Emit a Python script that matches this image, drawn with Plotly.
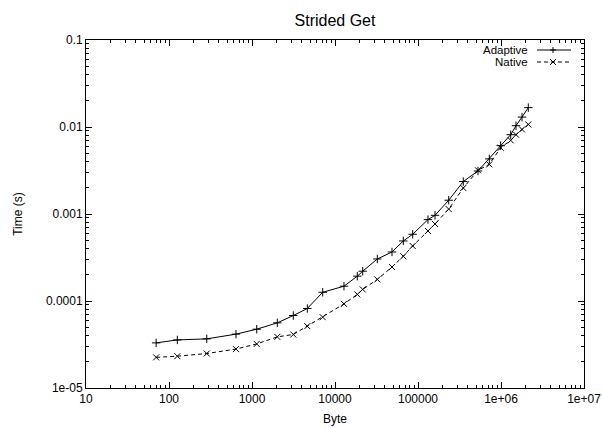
import plotly.graph_objects as go

title_text = "Strided Get"
x_title = "Byte"
y_title = "Time (s)"

bytes_sizes = [70, 126, 285, 641, 1140, 2018, 3146, 4638, 7110, 12830, 18570, 21570,
               32340, 48600, 66500, 86300, 131900, 160300, 234300, 351300, 528000,
               722600, 991000, 1309000, 1516000, 1791000, 2133000]

adaptive_time = [3.30e-5, 3.57e-5, 3.67e-5, 4.16e-5, 4.74e-5, 5.61e-5, 6.81e-5, 8.20e-5,
                 1.26e-4, 1.48e-4, 1.93e-4, 2.20e-4, 3.04e-4, 3.66e-4, 4.90e-4, 5.85e-4,
                 8.62e-4, 9.66e-4, 1.44e-3, 2.36e-3, 3.12e-3, 4.30e-3, 6.10e-3, 8.16e-3,
                 1.035e-2, 1.30e-2, 1.67e-2]

native_time = [2.25e-5, 2.32e-5, 2.49e-5, 2.80e-5, 3.21e-5, 3.87e-5, 4.12e-5, 5.14e-5,
               6.52e-5, 9.27e-5, 1.19e-4, 1.36e-4, 1.77e-4, 2.46e-4, 3.27e-4, 4.29e-4,
               6.38e-4, 7.68e-4, 1.14e-3, 1.99e-3, 3.18e-3, 3.72e-3, 5.78e-3, 7.02e-3,
               8.16e-3, 9.38e-3, 1.07e-2]

series_names = ["Adaptive", "Native"]

x_tickvals = [10, 100, 1000, 10000, 100000, 1e6, 1e7]
x_ticktext = ["10", "100", "1000", "10000", "100000", "1e+06", "1e+07"]
y_tickvals = [1e-5, 1e-4, 1e-3, 1e-2, 1e-1]
y_ticktext = ["1e-05", "0.0001", "0.001", "0.01", "0.1"]

FONT = "Liberation Sans, Arial, Helvetica, sans-serif"

x_minor = [m * 10 ** k for k in range(1, 7) for m in range(2, 10)]
y_minor = [m * 10.0 ** k for k in range(-5, -1) for m in range(2, 10)]

fig = go.Figure()
fig.add_trace(go.Scatter(
    x=bytes_sizes, y=adaptive_time, mode="lines+markers", name=series_names[0],
    line=dict(color="black", width=1),
    marker=dict(symbol="cross-thin", size=6, color="black",
                line=dict(color="black", width=1)),
    showlegend=False, cliponaxis=False,
))
fig.add_trace(go.Scatter(
    x=bytes_sizes, y=native_time, mode="lines+markers", name=series_names[1],
    line=dict(color="black", width=1, dash="4px,3px"),
    marker=dict(symbol="x-thin", size=6, color="black",
                line=dict(color="black", width=1)),
    showlegend=False, cliponaxis=False,
))

W, H = 602, 428
L, R, T, B = 86, 18, 40, 40
pw, ph = W - L - R, H - T - B


def px_x(p):
    return (p - L) / pw


def px_y(p):
    return (H - B - p) / ph


shapes = []
annotations = []
legend_rows = [(series_names[0], 50, "solid", "plus"), (series_names[1], 62, "4px,3px", "x")]
for name, ypx, dash, sym in legend_rows:
    yy = px_y(ypx)
    annotations.append(dict(text=name, x=px_x(530), y=yy, xref="paper", yref="paper",
                            xanchor="right", yanchor="middle", showarrow=False,
                            font=dict(family=FONT, size=11.5, color="black")))
    shapes.append(dict(type="line", xref="paper", yref="paper",
                       x0=px_x(537), x1=px_x(571), y0=yy, y1=yy,
                       line=dict(color="black", width=1, dash=dash)))
    cx = px_x(553)
    dx = 3 / pw
    dy = 3 / ph
    if sym == "plus":
        path = f"M{cx-dx},{yy} L{cx+dx},{yy} M{cx},{yy-dy} L{cx},{yy+dy}"
    else:
        path = f"M{cx-dx},{yy-dy} L{cx+dx},{yy+dy} M{cx-dx},{yy+dy} L{cx+dx},{yy-dy}"
    shapes.append(dict(type="path", xref="paper", yref="paper", path=path,
                       line=dict(color="black", width=1)))

axis_common = dict(
    showline=True, linecolor="black", linewidth=1, mirror="allticks",
    ticks="inside", ticklen=6, tickcolor="black", tickwidth=1,
    showgrid=False, zeroline=False, automargin=False,
    tickfont=dict(family=FONT, size=12, color="black"),
)

fig.update_layout(
    width=W, height=H,
    margin=dict(l=L, r=R, t=T, b=B, autoexpand=False),
    paper_bgcolor="white", plot_bgcolor="white",
    font=dict(family=FONT, color="black"),
    title=dict(text=title_text, x=0.5, xref="paper", xanchor="center",
               y=1 - 20 / H, yref="container", yanchor="middle",
               font=dict(family=FONT, size=16, color="black")),
    xaxis=dict(type="log", range=[1, 7], tickmode="array", tickvals=x_tickvals,
               ticktext=x_ticktext,
               minor=dict(tickmode="array", tickvals=x_minor, ticks="inside",
                          ticklen=3, tickcolor="black", showgrid=False),
               title=dict(text=x_title, font=dict(family=FONT, size=12), standoff=9),
               **axis_common),
    yaxis=dict(type="log", range=[-5, -1], tickmode="array", tickvals=y_tickvals,
               ticktext=y_ticktext,
               minor=dict(tickmode="array", tickvals=y_minor, ticks="inside",
                          ticklen=3, tickcolor="black", showgrid=False),
               title=dict(text=y_title, font=dict(family=FONT, size=12), standoff=20),
               **axis_common),
    shapes=shapes,
    annotations=annotations,
    showlegend=False,
)

fig.write_html("out.html",
               config={"displayModeBar": False},
               post_script="document.body.style.margin='0';document.body.style.overflow='hidden';")
